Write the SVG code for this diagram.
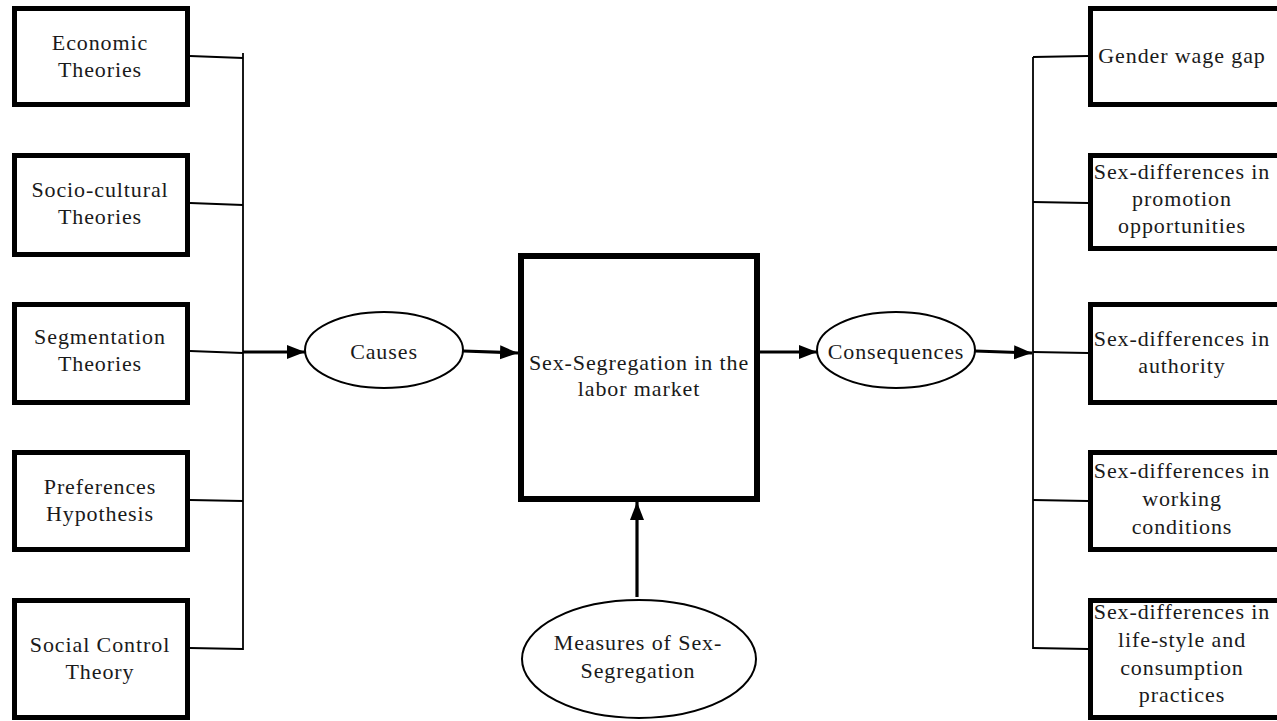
<svg xmlns="http://www.w3.org/2000/svg" width="1277" height="721" viewBox="0 0 1277 721">
<style>
.box{fill:#fff;stroke:#000;stroke-width:5}
.big{fill:#fff;stroke:#000;stroke-width:6}
.ell{fill:#fff;stroke:#000;stroke-width:2}
.thin{stroke:#000;stroke-width:1.8;fill:none}
.arr{stroke:#000;stroke-width:3.2;fill:none;marker-end:url(#ah)}
text{font-family:"Liberation Serif","Times New Roman",serif;font-size:22px;letter-spacing:0.9px;fill:#1a1a1a;text-anchor:middle}
</style>
<defs>
<marker id="ah" markerUnits="userSpaceOnUse" markerWidth="19" markerHeight="15" refX="18" refY="7" orient="auto">
<path d="M0,0 L18,7 L0,14 z" fill="#000"/>
</marker>
</defs>
<rect width="1277" height="721" fill="#fff"/>
<g id="connectors">
<line class="thin" x1="190" y1="56" x2="243" y2="58"/>
<line class="thin" x1="190" y1="203" x2="243" y2="205"/>
<line class="thin" x1="190" y1="351" x2="243" y2="353"/>
<line class="thin" x1="190" y1="500" x2="243" y2="501"/>
<line class="thin" x1="190" y1="648" x2="243" y2="649"/>
<line class="thin" x1="243" y1="53" x2="243" y2="650"/>
<line class="thin" x1="1033" y1="57" x2="1088" y2="56"/>
<line class="thin" x1="1033" y1="202" x2="1088" y2="203"/>
<line class="thin" x1="1033" y1="352" x2="1088" y2="353"/>
<line class="thin" x1="1033" y1="500" x2="1088" y2="501"/>
<line class="thin" x1="1033" y1="648" x2="1088" y2="649"/>
<line class="thin" x1="1033" y1="57" x2="1033" y2="649"/>
<path class="arr" d="M243,352 L305,352"/>
<path class="arr" d="M463,351 L518,353"/>
<path class="arr" d="M760,352 L817,352"/>
<path class="arr" d="M975,351 L1032,353"/>
<path class="arr" d="M637,597 L637,502"/>
</g>
<g id="economic"><rect class="box" x="14.5" y="8.5" width="173" height="96"/><text x="100" y="50">Economic</text><text x="100" y="77">Theories</text></g>
<g id="sociocultural"><rect class="box" x="14.5" y="155.5" width="173" height="99"/><text x="100" y="197">Socio-cultural</text><text x="100" y="224">Theories</text></g>
<g id="segmentation"><rect class="box" x="14.5" y="304.5" width="173" height="98"/><text x="100" y="344">Segmentation</text><text x="100" y="371">Theories</text></g>
<g id="preferences"><rect class="box" x="14.5" y="452.5" width="173" height="97"/><text x="100" y="494">Preferences</text><text x="100" y="521">Hypothesis</text></g>
<g id="socialcontrol"><rect class="box" x="14.5" y="600.5" width="173" height="117"/><text x="100" y="652">Social Control</text><text x="100" y="679">Theory</text></g>
<g id="causes"><ellipse class="ell" cx="384" cy="350" rx="79" ry="38"/><text x="384" y="359">Causes</text></g>
<g id="segregation"><rect class="big" x="521" y="256" width="236" height="243"/><text x="639" y="370">Sex-Segregation in the</text><text x="639" y="396">labor market</text></g>
<g id="consequences"><ellipse class="ell" cx="896" cy="350" rx="79" ry="38"/><text x="896" y="359">Consequences</text></g>
<g id="measures"><ellipse class="ell" cx="639" cy="659" rx="117" ry="59"/><text x="638" y="650">Measures of Sex-</text><text x="638" y="678">Segregation</text></g>
<g id="wagegap"><rect class="box" x="1090.5" y="8.5" width="200" height="96"/><text x="1182" y="63">Gender wage gap</text></g>
<g id="promotion"><rect class="box" x="1090.5" y="155.5" width="200" height="93"/><text x="1182" y="179">Sex-differences in</text><text x="1182" y="206">promotion</text><text x="1182" y="233">opportunities</text></g>
<g id="authority"><rect class="box" x="1090.5" y="304.5" width="200" height="98"/><text x="1182" y="346">Sex-differences in</text><text x="1182" y="373">authority</text></g>
<g id="working"><rect class="box" x="1090.5" y="452.5" width="200" height="97"/><text x="1182" y="478">Sex-differences in</text><text x="1182" y="506">working</text><text x="1182" y="534">conditions</text></g>
<g id="lifestyle"><rect class="box" x="1090.5" y="600.5" width="200" height="117"/><text x="1182" y="619">Sex-differences in</text><text x="1182" y="647">life-style and</text><text x="1182" y="675">consumption</text><text x="1182" y="702">practices</text></g>
</svg>
